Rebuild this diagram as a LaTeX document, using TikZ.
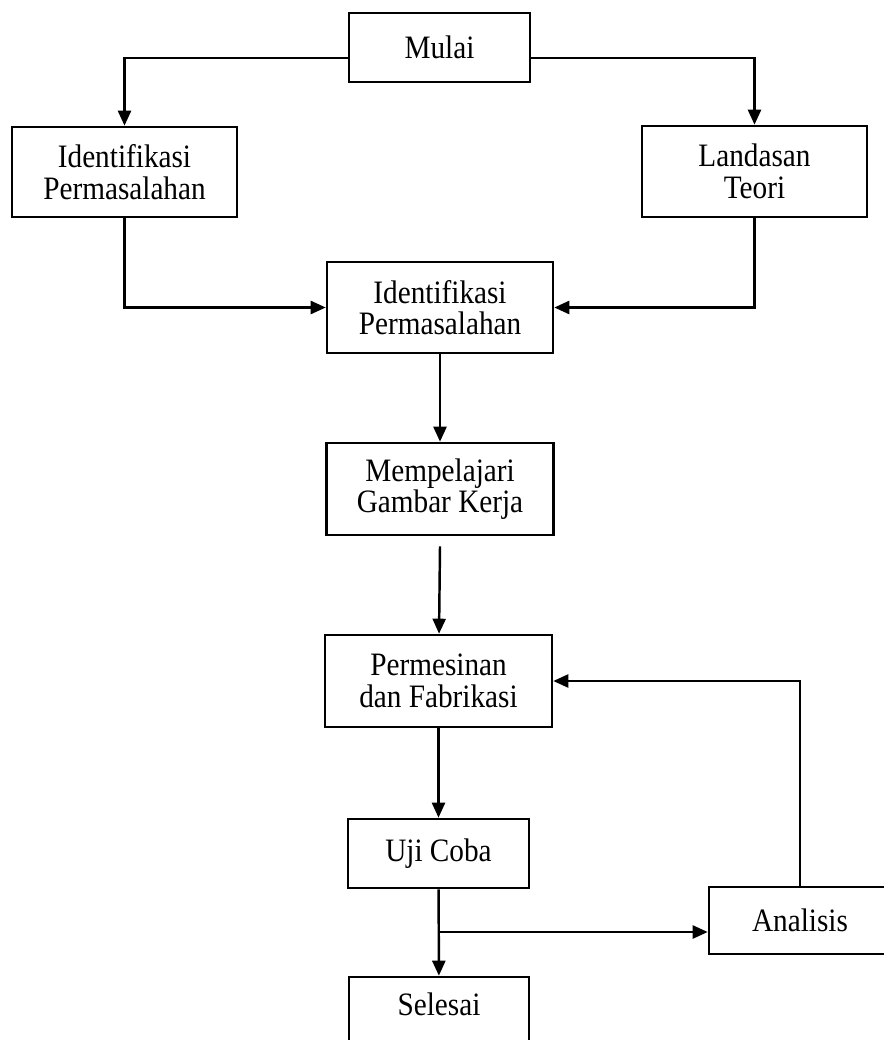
\documentclass[tikz,border=0pt]{standalone}
\usepackage{fontspec}
\setmainfont{Liberation Serif}[FakeStretch=0.895]
\usetikzlibrary{arrows.meta}

\begin{document}
\begin{tikzpicture}[x=0.02cm,y=0.02cm]
\tikzstyle{every node}+=[inner sep=0pt]
\tikzstyle{kotak}=[draw=black, line width=1.5pt, minimum width=4.5cm, minimum height=1.84cm, align=center, font=\fontsize{18.6}{18}\selectfont]
\tikzstyle{panah}=[black, line width=1.4pt, -{Triangle[length=0.3cm,width=0.26cm]}]
\useasboundingbox (0,0) rectangle (883,-1040);
\node [kotak, minimum width=3.62cm, minimum height=1.38cm] (mulai) at (439.5,-47.5) {Mulai};
\node [kotak, minimum height=1.8cm] (idkiri) at (124.5,-172) {Identifikasi\\Permasalahan};
\node [kotak, minimum height=1.82cm] (landasan) at (754.5,-171.5) {Landasan\\Teori};
\node [kotak, minimum width=4.52cm, minimum height=1.82cm] (idtengah) at (440,-307.5) {Identifikasi\\Permasalahan};
\node [kotak, minimum width=4.54cm] (gambar) at (440,-489) {Mempelajari\\Gambar Kerja};
\node [kotak, minimum width=4.54cm] (mesin) at (438.5,-681) {Permesinan\\dan Fabrikasi};
\node [kotak, minimum width=3.62cm, minimum height=1.38cm] (uji) at (438.5,-853.5) {Uji Coba};
\node [kotak, minimum width=3.6cm, minimum height=1.38cm, text depth=0.28cm] (selesai) at (439,-1011.5) {Selesai};
\node [kotak, minimum width=3.64cm, minimum height=1.34cm] (analisis) at (800,-920.5) {Analisis};
\coordinate (cabang) at (438.5,-932);
% alur utama
\draw [panah] ([yshift=-0.21cm]mulai.west) -| (idkiri);
\draw [panah] ([yshift=-0.21cm]mulai.east) -| (landasan);
\draw [panah] (idkiri) |- (idtengah);
\draw [panah] (landasan) |- (idtengah);
\draw [panah] (idtengah) -- (gambar);
\draw [panah] ([yshift=-0.2cm]gambar.south) -- (mesin);
\draw [panah] (mesin) -- (uji);
\draw [panah] (uji) -- (selesai);
% umpan balik analisis
\draw [panah] (cabang) -- (cabang -| analisis.west);
\draw [panah] (analisis) |- (mesin);
\end{tikzpicture}
\end{document}
